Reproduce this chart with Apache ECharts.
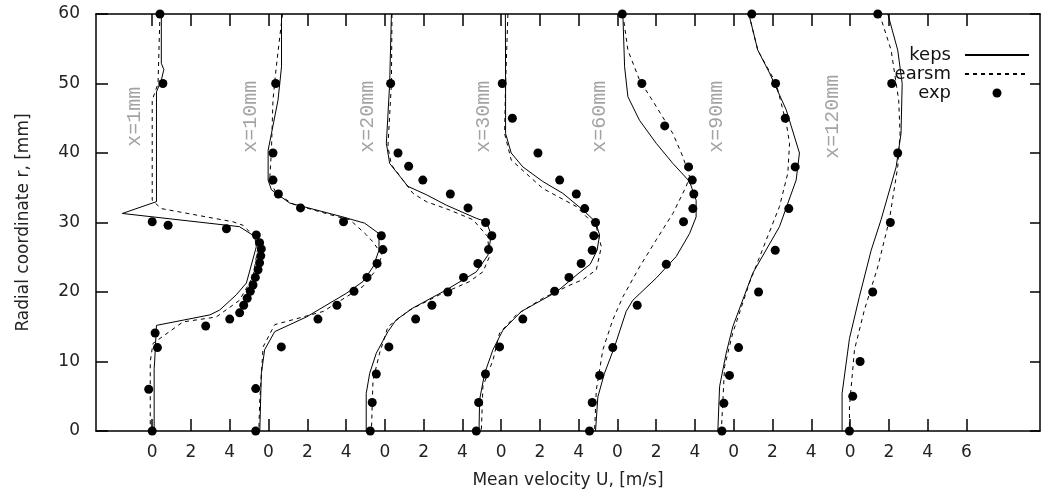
<!DOCTYPE html>
<html>
<head>
<meta charset="utf-8">
<script src="https://cdn.jsdelivr.net/npm/echarts@6.0.0/dist/echarts.min.js"></script>
<style>
  html, body { margin: 0; background: #fff; }
  #chart { width: 1041px; height: 501px; }
</style>
</head>
<body>
<div id="chart"></div>
<script>
// each profile is drawn shifted right by 6 m/s
const profileOffsets = [0, 6, 12, 18, 24, 30, 36]
const profileLabels = ['x=1mm', 'x=10mm', 'x=20mm', 'x=30mm', 'x=60mm', 'x=90mm', 'x=120mm']

// x tick positions on the shared axis and the text shown under them
const xTickValues = [0, 2, 4, 6, 8, 10, 12, 14, 16, 18, 20, 22, 24, 26, 28, 30, 32, 34, 36, 38, 40, 42]
const xTickLabels = ['0', '2', '4', '0', '2', '4', '0', '2', '4', '0', '2', '4', '0', '2', '4', '0', '2', '4', '0', '2', '4', '6']

// [U m/s, r mm] per station
const keps1 = [[0.47, 60], [0.47, 52.9], [0.6, 52], [0.47, 50.5], [0.22, 48.8], [0.22, 33], [-1.54, 31.3], [4.5, 29.4], [5.29, 28], [5.37, 26.5], [4.86, 21.3], [4.34, 19.6], [3.48, 17.4], [2.97, 16.7], [0.22, 15.2], [0.13, 10.2], [0.1, 9], [0.1, 0]]
const earsm1 = [[0.4, 60], [0.3, 50], [0, 47.6], [0, 33.2], [0.47, 32], [4.17, 30.1], [4.68, 29.6], [5.37, 27.7], [5.46, 26.5], [5.2, 22.2], [4.5, 18.8], [3.3, 16.4], [1.59, 15.7], [0.04, 12.6], [-0.1, 10], [-0.1, 0]]
const exp1 = [[0.4, 60], [0.55, 50], [0, 30.1], [0.82, 29.6], [3.83, 29.1], [5.37, 28.2], [5.54, 27.1], [5.63, 26.2], [5.6, 25.2], [5.54, 24.2], [5.46, 23.2], [5.32, 22.1], [5.2, 21], [5.06, 20.1], [4.9, 19.1], [4.72, 18.1], [4.51, 17], [4.0, 16.1], [2.76, 15.1], [0.15, 14.1], [0.27, 12], [-0.18, 6], [0, 0]]

const keps2 = [[0.67, 60], [0.67, 52.4], [0.49, 47.6], [0.15, 42.8], [-0.02, 40.4], [-0.02, 36.1], [0.15, 34.7], [1.09, 32.8], [3.84, 30.8], [4.96, 29.9], [5.7, 28.4], [5.7, 26], [5.39, 23.6], [4.87, 21.5], [4.01, 19.8], [1.95, 16.4], [0.32, 14.3], [-0.2, 11.7], [-0.37, 8.3], [-0.45, 0]]
const earsm2 = [[0.72, 60], [0.4, 52.4], [0.23, 47.6], [0.15, 40.4], [0.06, 36.1], [0.4, 34.2], [1.3, 32.6], [3.6, 30.8], [4.2, 30.4], [5.06, 28.2], [5.39, 27.2], [5.87, 25.3], [5.47, 22.9], [4.87, 20.8], [2.82, 17.2], [0.32, 15.3], [-0.28, 12.1], [-0.45, 4.5], [-0.5, 0]]
const exp2 = [[0.37, 50], [0.23, 40], [0.23, 36.1], [0.51, 34.1], [1.65, 32.1], [3.87, 30.1], [5.82, 28.1], [5.9, 26.1], [5.6, 24.1], [5.08, 22.1], [4.41, 20.1], [3.53, 18.1], [2.55, 16.1], [0.66, 12.1], [-0.66, 6.1], [-0.66, 0]]

const keps3 = [[0.34, 60], [0.25, 50], [0.08, 41.4], [0.25, 38.5], [1.19, 35.2], [2.14, 34], [3.17, 32.5], [4.72, 30.6], [5.24, 30.1], [5.49, 28.2], [5.32, 25.3], [4.72, 22.9], [3.17, 20.3], [1.45, 17.7], [0.59, 16], [0.16, 14.3], [-0.44, 11.2], [-0.78, 8.3], [-0.96, 5.4], [-0.96, 0]]
const earsm3 = [[0.37, 60], [0.34, 50], [0.16, 40.9], [0.34, 38.3], [1.45, 34.2], [2.14, 33], [3.34, 31.8], [4.55, 30.4], [5.3, 28], [5.4, 25.1], [5.06, 22.9], [4.37, 21.5], [2.82, 19.6], [1.28, 17.4], [0.16, 15], [-0.27, 11.2], [-0.61, 7.3], [-0.69, 0]]
const exp3 = [[0.3, 50], [0.68, 40], [1.23, 38.1], [1.96, 36.1], [3.38, 34.1], [4.29, 32.1], [5.2, 30], [5.52, 28.1], [5.35, 26.1], [4.8, 24.1], [4.06, 22.1], [3.25, 20], [2.43, 18.1], [1.59, 16.1], [0.21, 12.1], [-0.44, 8.2], [-0.65, 4.1], [-0.75, 0]]

const keps4 = [[0.22, 60], [0.23, 50], [0.23, 42.8], [0.52, 40], [1.12, 38], [2.15, 35.9], [3.18, 34.2], [4.22, 31.8], [4.87, 30.1], [5.08, 28.2], [4.95, 26], [4.6, 24], [3.96, 22.6], [2.85, 20], [1.04, 17.2], [0.09, 14.5], [-0.42, 11.7], [-0.85, 8.3], [-1.11, 4.5], [-1.14, 0]]
const earsm4 = [[0.35, 60], [0.23, 50], [0.18, 42.8], [0.52, 39], [1.47, 36.6], [2.15, 34.9], [3.88, 32.3], [4.91, 29.4], [5.17, 26.5], [4.91, 23.2], [4.22, 21.8], [3.48, 20.9], [2.15, 19.1], [0.78, 16.7], [-0.08, 14.1], [-0.42, 10.2], [-0.94, 6.4], [-1.02, 0]]
const exp4 = [[0.06, 50], [0.58, 45], [1.9, 40], [3.02, 36.1], [3.88, 34.1], [4.31, 32], [4.87, 30], [4.78, 28.1], [4.7, 26], [4.13, 24.1], [3.5, 22.1], [2.76, 20.1], [1.12, 16.1], [-0.08, 12.1], [-0.81, 8.2], [-1.16, 4.1], [-1.28, 0]]

const keps5 = [[0.28, 60], [0.37, 52.4], [0.54, 48.1], [1.14, 44.7], [2.0, 41.4], [2.86, 38.5], [3.72, 35.9], [4.06, 33.2], [4.06, 30.8], [3.72, 28.4], [3.03, 25.1], [2.0, 22], [0.79, 18.8], [0.45, 17.2], [-0.15, 12.1], [-0.67, 8.3], [-1.01, 4.9], [-1.13, 0]]
const earsm5 = [[0.28, 60], [0.54, 54.8], [1.14, 50.5], [2.0, 46.7], [2.86, 42.8], [3.37, 39.5], [3.72, 36.6], [3.55, 35.2], [2.86, 31.3], [2.0, 27.5], [1.14, 23.6], [0.28, 19.3], [-0.24, 16], [-0.75, 11.7], [-1.09, 5.9], [-1.18, 0]]
const exp5 = [[0.25, 60], [1.26, 50], [2.44, 43.9], [3.67, 38], [3.86, 36.1], [3.94, 34.1], [3.89, 32], [3.41, 30.1], [2.52, 24], [1.02, 18.1], [-0.24, 12], [-0.92, 8], [-1.3, 4.1], [-1.44, 0]]

const keps6 = [[0.78, 60], [1.24, 54.8], [1.85, 51.5], [2.71, 46.2], [3.39, 40], [3.22, 36.1], [2.36, 29.4], [0.98, 22.7], [-0.05, 15], [-0.39, 11.2], [-0.73, 6.4], [-0.82, 0]]
const earsm6 = [[0.78, 60], [1.24, 54.8], [2.19, 50], [2.71, 44.3], [2.88, 41.4], [2.79, 37.1], [2.36, 32.3], [1.68, 27.5], [0.81, 21.3], [-0.05, 14.1], [-0.47, 9.3], [-0.64, 0]]
const exp6 = [[0.93, 60], [2.16, 50], [2.66, 45], [3.17, 38], [2.84, 32], [2.14, 26], [1.28, 20], [0.25, 12], [-0.22, 8], [-0.51, 4], [-0.61, 0]]

const keps7 = [[1.95, 60], [2.46, 54.8], [2.69, 50], [2.63, 42.8], [2.38, 38], [1.6, 30.4], [1.09, 26], [0.48, 19.3], [-0.03, 13.3], [-0.41, 5.4], [-0.41, 0]]
const earsm7 = [[1.52, 60], [2.12, 54.8], [2.51, 47.6], [2.58, 42.8], [2.46, 38], [2.03, 30.4], [1.43, 23.6], [0.74, 17.4], [0.23, 11.7], [-0.03, 3.5], [-0.03, 0]]
const exp7 = [[1.43, 60], [2.15, 50], [2.46, 40], [2.08, 30], [1.17, 20], [0.52, 10], [0.14, 5], [-0.03, 0]]

const kepsProfiles = [keps1, keps2, keps3, keps4, keps5, keps6, keps7]
const earsmProfiles = [earsm1, earsm2, earsm3, earsm4, earsm5, earsm6, earsm7]
const expProfiles = [exp1, exp2, exp3, exp4, exp5, exp6, exp7]

const font = 'DejaVu Sans'
const chart = echarts.init(document.getElementById('chart'))

const series = []
profileOffsets.forEach((off, i) => {
  const shift = pts => pts.map(p => [p[0] + off, p[1]])
  series.push({
    name: 'keps',
    type: 'line',
    data: shift(kepsProfiles[i]),
    symbol: 'none',
    lineStyle: { color: '#000', width: 1 },
    itemStyle: { color: '#000' },
    z: 2
  })
  series.push({
    name: 'earsm',
    type: 'line',
    data: shift(earsmProfiles[i]),
    symbol: 'none',
    lineStyle: { color: '#000', width: 1, type: [4, 4] },
    itemStyle: { color: '#000' },
    z: 2
  })
  series.push({
    name: 'exp',
    type: 'scatter',
    data: shift(expProfiles[i]),
    symbol: 'circle',
    symbolSize: 9,
    itemStyle: { color: '#000', opacity: 1 },
    z: 3
  })
})

// station names, rotated, to the left of each profile
series.push({
  name: 'stations',
  type: 'scatter',
  symbolSize: 0,
  data: profileOffsets.map(off => [off - 0.9, 45.2]),
  label: {
    show: true,
    position: 'inside',
    rotate: 90,
    formatter: p => profileLabels[p.dataIndex],
    fontFamily: 'Liberation Mono',
    fontSize: 20,
    color: '#8c8c8c'
  },
  z: 1
})

const frameLine = { onZero: false, lineStyle: { color: '#000', width: 1.5 } }
const tickStyle = { color: '#000', width: 1.5 }

chart.setOption({
  animation: false,
  backgroundColor: '#fff',
  grid: { left: 96, right: 1, top: 14, bottom: 70 },
  legend: {
    data: [
      { name: 'keps', itemStyle: { opacity: 0 } },
      { name: 'earsm', itemStyle: { opacity: 0 } },
      { name: 'exp', icon: 'circle' }
    ],
    orient: 'vertical',
    right: 11,
    top: 46,
    align: 'right',
    itemWidth: 64,
    itemHeight: 9,
    itemGap: 1,
    padding: 0,
    selectedMode: false,
    textStyle: { fontFamily: font, fontSize: 18, color: '#111', padding: [0, 9, 0, 0] }
  },
  xAxis: [
    {
      type: 'value',
      min: -2.9,
      max: 45.8,
      name: 'Mean velocity U, [m/s]',
      nameLocation: 'middle',
      nameGap: 41,
      nameTextStyle: { fontFamily: font, fontSize: 17, color: '#222' },
      axisLine: frameLine,
      axisTick: { inside: true, length: 12, customValues: xTickValues, lineStyle: tickStyle },
      axisLabel: {
        customValues: xTickValues,
        margin: 13,
        fontFamily: font,
        fontSize: 17,
        color: '#222',
        formatter: v => xTickLabels[xTickValues.indexOf(v)]
      },
      splitLine: { show: false }
    },
    {
      type: 'value',
      position: 'top',
      min: -2.9,
      max: 45.8,
      axisLine: frameLine,
      axisTick: { inside: true, length: 12, customValues: xTickValues, lineStyle: tickStyle },
      axisLabel: { show: false },
      splitLine: { show: false }
    }
  ],
  yAxis: [
    {
      type: 'value',
      min: 0,
      max: 60,
      interval: 10,
      name: 'Radial coordinate r, [mm]',
      nameLocation: 'middle',
      nameGap: 64,
      nameTextStyle: { fontFamily: font, fontSize: 17, color: '#222' },
      axisLine: Object.assign({ show: true }, frameLine),
      axisTick: { show: true, inside: true, length: 12, lineStyle: tickStyle },
      axisLabel: { margin: 16, fontFamily: font, fontSize: 17, color: '#222' },
      splitLine: { show: false }
    },
    {
      type: 'value',
      position: 'right',
      min: 0,
      max: 60,
      interval: 10,
      axisLine: Object.assign({ show: true }, frameLine),
      axisTick: { show: true, inside: true, length: 10, lineStyle: tickStyle },
      axisLabel: { show: false },
      splitLine: { show: false }
    }
  ],
  series: series
})
</script>
</body>
</html>
